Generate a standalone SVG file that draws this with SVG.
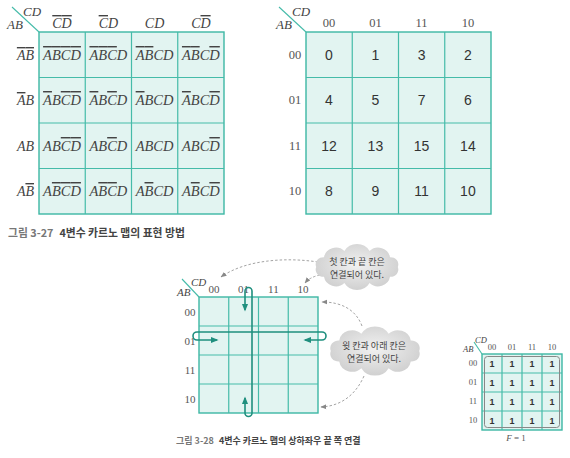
<svg xmlns="http://www.w3.org/2000/svg" xmlns:xlink="http://www.w3.org/1999/xlink" width="570" height="458" viewBox="0 0 570 458">
<style>
.bg{fill:#e2f4f1;stroke:#3db7a4;stroke-width:1.4}
.gl{stroke:#45bba9;stroke-width:1.2;fill:none}
.dg{stroke:#45bba9;stroke-width:1.1}
.it{font-family:"Liberation Serif",serif;font-style:italic;fill:#444}
.sr{font-family:"Liberation Serif",serif;fill:#555}
.ss{font-family:"Liberation Sans",sans-serif;fill:#333}
.kr{font-family:"Noto Sans CJK KR","Noto Sans",sans-serif}
.ov{text-decoration:overline}
.loop{fill:none;stroke:#1f8f7e;stroke-width:1.6;marker-start:url(#ga);marker-end:url(#ga)}
.dash{fill:none;stroke:#999;stroke-width:0.9;stroke-dasharray:2.5 2;marker-end:url(#da)}
</style>
<defs>
<marker id="ga" viewBox="0 0 10 10" refX="8" refY="5" markerWidth="5" markerHeight="5" orient="auto-start-reverse"><path d="M0,1 L10,5 L0,9 Z" fill="#1f8f7e"/></marker>
<marker id="da" viewBox="0 0 10 10" refX="9" refY="5" markerWidth="6" markerHeight="6" orient="auto" markerUnits="userSpaceOnUse"><path d="M0,1 L10,5 L0,9 Z" fill="#888"/></marker>
<radialGradient id="cg" cx="0.5" cy="0.45" r="0.6"><stop offset="0" stop-color="#f1f1f1"/><stop offset="1" stop-color="#cdcdcd"/></radialGradient>
<path id="cloud" d="M34,0 A6.5,6.5 0 0 1 27.5,8.8 A10,10 0 0 1 10.5,14.3 A12,12 0 0 1 -10.5,14.3 A10,10 0 0 1 -27.5,8.8 A6.5,6.5 0 0 1 -34,0 A6.5,6.5 0 0 1 -27.5,-8.8 A10,10 0 0 1 -10.5,-14.3 A12,12 0 0 1 10.5,-14.3 A10,10 0 0 1 27.5,-8.8 A6.5,6.5 0 0 1 34,0 Z" fill="url(#cg)"/>
</defs>

<!-- Map 1: expressions -->
<g id="map1">
<rect class="bg" x="39" y="32" width="185" height="182"/>
<path class="gl" d="M85.25,32V214M131.5,32V214M177.75,32V214M39,77.5H224M39,123H224M39,168.5H224"/>
<line class="dg" x1="12" y1="7" x2="39" y2="32"/>
<text class="it" font-size="13" x="23" y="16">CD</text>
<text class="it" font-size="13" x="7" y="29">AB</text>
<g class="it" font-size="14" text-anchor="middle">
<text x="62" y="28"><tspan class="ov">C</tspan><tspan class="ov">D</tspan></text>
<text x="108.4" y="28"><tspan class="ov">C</tspan>D</text>
<text x="154.6" y="28">CD</text>
<text x="200.9" y="28">C<tspan class="ov">D</tspan></text>
</g>
<g class="it" font-size="14" text-anchor="end">
<text x="34" y="60"><tspan class="ov">A</tspan><tspan class="ov">B</tspan></text>
<text x="34" y="105"><tspan class="ov">A</tspan>B</text>
<text x="34" y="151">AB</text>
<text x="34" y="196">A<tspan class="ov">B</tspan></text>
</g>
<g class="it" font-size="14.5" text-anchor="middle">
<text x="62" y="60"><tspan class="ov">A</tspan><tspan class="ov">B</tspan><tspan class="ov">C</tspan><tspan class="ov">D</tspan></text>
<text x="108.4" y="60"><tspan class="ov">A</tspan><tspan class="ov">B</tspan><tspan class="ov">C</tspan>D</text>
<text x="154.6" y="60"><tspan class="ov">A</tspan><tspan class="ov">B</tspan>CD</text>
<text x="200.9" y="60"><tspan class="ov">A</tspan><tspan class="ov">B</tspan>C<tspan class="ov">D</tspan></text>
<text x="62" y="105"><tspan class="ov">A</tspan>B<tspan class="ov">C</tspan><tspan class="ov">D</tspan></text>
<text x="108.4" y="105"><tspan class="ov">A</tspan>B<tspan class="ov">C</tspan>D</text>
<text x="154.6" y="105"><tspan class="ov">A</tspan>BCD</text>
<text x="200.9" y="105"><tspan class="ov">A</tspan>BC<tspan class="ov">D</tspan></text>
<text x="62" y="151">AB<tspan class="ov">C</tspan><tspan class="ov">D</tspan></text>
<text x="108.4" y="151">AB<tspan class="ov">C</tspan>D</text>
<text x="154.6" y="151">ABCD</text>
<text x="200.9" y="151">ABC<tspan class="ov">D</tspan></text>
<text x="62" y="196">A<tspan class="ov">B</tspan><tspan class="ov">C</tspan><tspan class="ov">D</tspan></text>
<text x="108.4" y="196">A<tspan class="ov">B</tspan><tspan class="ov">C</tspan>D</text>
<text x="154.6" y="196">A<tspan class="ov">B</tspan>CD</text>
<text x="200.9" y="196">A<tspan class="ov">B</tspan>C<tspan class="ov">D</tspan></text>
</g>
</g>

<!-- Map 2: cell numbers -->
<g id="map2">
<rect class="bg" x="306" y="32" width="185" height="182"/>
<path class="gl" d="M352.25,32V214M398.5,32V214M444.75,32V214M306,77.5H491M306,123H491M306,168.5H491"/>
<line class="dg" x1="279" y1="7" x2="306" y2="32"/>
<text class="it" font-size="13" x="292" y="16">CD</text>
<text class="it" font-size="13" x="276" y="29">AB</text>
<g class="sr" font-size="12.5" text-anchor="middle">
<text x="329" y="27">00</text><text x="375.4" y="27">01</text><text x="421.6" y="27">11</text><text x="467.9" y="27">10</text>
<text x="295" y="59">00</text><text x="295" y="104">01</text><text x="295" y="150">11</text><text x="295" y="195">10</text>
</g>
<g class="ss" font-size="14" text-anchor="middle">
<text x="329" y="60">0</text><text x="375.4" y="60">1</text><text x="421.6" y="60">3</text><text x="467.9" y="60">2</text>
<text x="329" y="105">4</text><text x="375.4" y="105">5</text><text x="421.6" y="105">7</text><text x="467.9" y="105">6</text>
<text x="329" y="151">12</text><text x="375.4" y="151">13</text><text x="421.6" y="151">15</text><text x="467.9" y="151">14</text>
<text x="329" y="196">8</text><text x="375.4" y="196">9</text><text x="421.6" y="196">11</text><text x="467.9" y="196">10</text>
</g>
</g>

<g id="caption1" class="kr" font-size="10.8" font-weight="700">
<text x="8" y="237"><tspan fill="#777">그림 3-27</tspan><tspan fill="#444" dx="6">4변수 카르노 맵의 표현 방법</tspan></text>
</g>

<!-- Map 3: adjacency -->
<g id="map3">
<rect class="bg" x="199" y="297" width="119" height="116"/>
<path class="gl" d="M228.75,297V413M258.5,297V413M288.25,297V413M199,326H318M199,355H318M199,384H318"/>
<line class="dg" x1="182" y1="279" x2="199" y2="297"/>
<text class="it" font-size="11" x="191" y="286">CD</text>
<text class="it" font-size="11" x="177" y="296">AB</text>
<g class="sr" font-size="11" text-anchor="middle">
<text x="214" y="293">00</text><text x="243.6" y="293">01</text><text x="273.4" y="293">11</text><text x="303" y="293">10</text>
<text x="190" y="316">00</text><text x="190" y="345">01</text><text x="190" y="374">11</text><text x="190" y="403">10</text>
</g>
</g>

<g id="connectors">
<path class="loop" d="M217,340 L197,340 A4,4 0 0 1 197,332 L322,332 A4,4 0 0 1 322,340 L305,340"/>
<path class="loop" d="M245,398 L245,413 A3.5,3.5 0 0 0 252,413 L252,291 A3.5,3.5 0 0 0 245,291 L245,310"/>
<path class="dash" d="M318,262 C285,257 245,260 221,277"/>
<path class="dash" d="M320,275 Q310,277 305,283"/>
<path class="dash" d="M362,326 C356,310 342,302 322,302"/>
<path class="dash" d="M364,376 C356,394 342,406 321,407"/>
</g>

<g id="cloud1">
<use xlink:href="#cloud" href="#cloud" transform="translate(357,267) scale(1.2,1.12)"/>
<g class="kr" font-size="9" fill="#444" text-anchor="middle">
<text x="357" y="265">첫 칸과 끝 칸은</text>
<text x="357" y="278">연결되어 있다.</text>
</g>
</g>

<g id="cloud2">
<use xlink:href="#cloud" href="#cloud" transform="translate(375,351) scale(1.3,1.2)"/>
<g class="kr" font-size="9" fill="#444" text-anchor="middle">
<text x="374" y="349">윗 칸과 아래 칸은</text>
<text x="374" y="362">연결되어 있다.</text>
</g>
</g>

<g id="caption2" class="kr" font-size="9" font-weight="700">
<text x="176" y="444"><tspan fill="#777">그림 3-28</tspan><tspan fill="#444" dx="5">4변수 카르노 맵의 상하좌우 끝 쪽 연결</tspan></text>
</g>

<!-- Map 4: F = 1 -->
<g id="map4">
<rect class="bg" x="482" y="354" width="80" height="76" stroke-width="1.1"/>
<path class="gl" stroke-width="1" d="M502,354V430M522,354V430M542,354V430M482,373H562M482,392H562M482,411H562"/>
<rect x="484.5" y="356.5" width="75" height="71" rx="3" fill="none" stroke="#888" stroke-width="1"/>
<line class="dg" x1="474" y1="342" x2="482" y2="354" stroke-width="0.9"/>
<text class="it" font-size="8.5" x="475" y="343">CD</text>
<text class="it" font-size="8.5" x="463" y="352">AB</text>
<g class="sr" font-size="8.5" text-anchor="middle">
<text x="492" y="350">00</text><text x="512" y="350">01</text><text x="532" y="350">11</text><text x="552" y="350">10</text>
<text x="473" y="366">00</text><text x="473" y="385">01</text><text x="473" y="404">11</text><text x="473" y="423">10</text>
</g>
<g class="ss" font-size="9" font-weight="700" text-anchor="middle">
<text x="492" y="367">1</text><text x="512" y="367">1</text><text x="532" y="367">1</text><text x="552" y="367">1</text>
<text x="492" y="386">1</text><text x="512" y="386">1</text><text x="532" y="386">1</text><text x="552" y="386">1</text>
<text x="492" y="405">1</text><text x="512" y="405">1</text><text x="532" y="405">1</text><text x="552" y="405">1</text>
<text x="492" y="424">1</text><text x="512" y="424">1</text><text x="532" y="424">1</text><text x="552" y="424">1</text>
</g>
<text class="sr" font-size="9" x="516" y="441" text-anchor="middle"><tspan font-style="italic">F</tspan> = 1</text>
</g>
</svg>
